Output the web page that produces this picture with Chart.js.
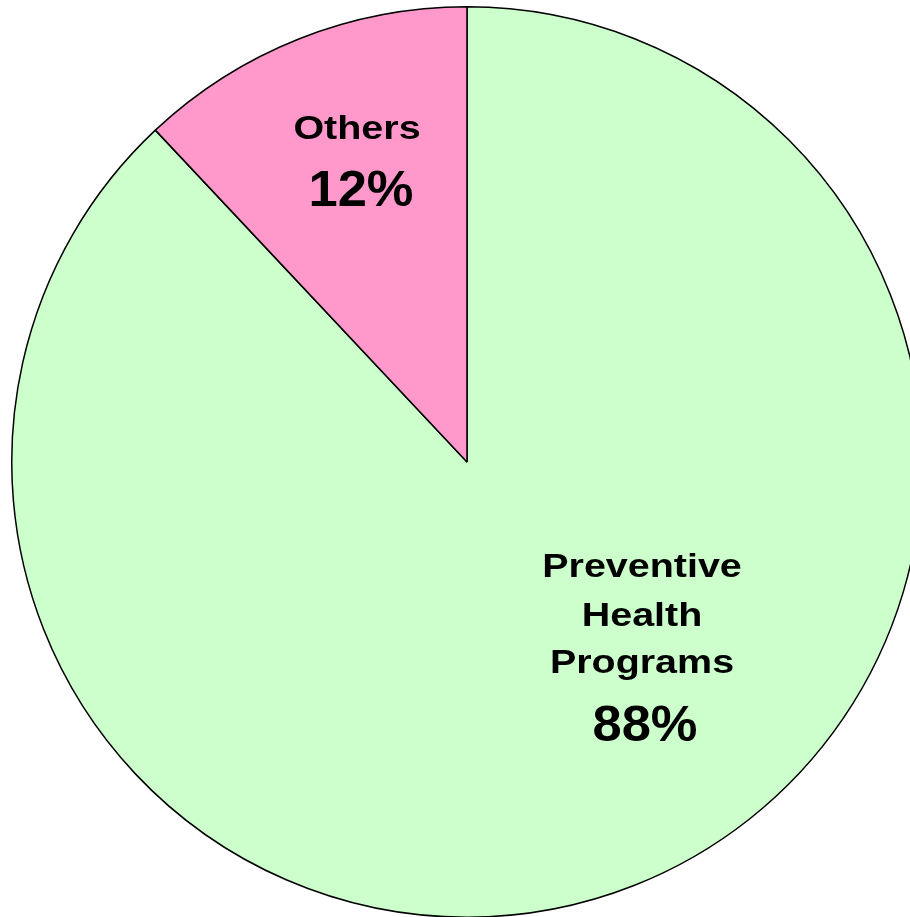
<!DOCTYPE html>
<html>
<head>
<meta charset="utf-8">
<script src="https://cdn.jsdelivr.net/npm/chart.js@4/dist/chart.umd.min.js"></script>
<style>
  html, body { margin:0; padding:0; background:#fff; overflow:hidden; width:910px; height:917px; }
  #wrap { position:absolute; left:9px; top:4px; width:916px; height:916px; }
</style>
</head>
<body>
<div id="wrap"><canvas id="pieChart" width="916" height="916"></canvas></div>
<script>
// data
const categories = ['Preventive Health Programs', 'Others'];
const labelLines = [['Preventive', 'Health', 'Programs'], ['Others']];
const shares = [88, 12];
const colors = ['#CCFFCC', '#FF99CC'];

// label placement relative to pie centre (dx, baselines of each line)
const labelPos = [
  { dx: 175, lines: [115, 164, 211], pct: 279 },
  { dx: -110, lines: [-323], pct: -256 }
];

const sliceLabels = {
  id: 'sliceLabels',
  afterDatasetsDraw(chart){
    const ctx = chart.ctx;
    const arcs = chart.getDatasetMeta(0).data;
    arcs.forEach((arc, i) => {
      const p = labelPos[i];
      const cx = arc.x + p.dx;
      ctx.save();
      ctx.fillStyle = '#000';
      ctx.textAlign = 'center';
      ctx.textBaseline = 'alphabetic';
      labelLines[i].forEach((line, j) => {
        ctx.save();
        ctx.translate(cx, arc.y + p.lines[j]);
        ctx.scale(1.16, 1);
        ctx.font = 'bold 34px "Liberation Sans", Arial, sans-serif';
        ctx.fillText(line, 0, 0);
        ctx.restore();
      });
      ctx.save();
      ctx.translate(cx + (i === 0 ? 3 : 4), arc.y + p.pct);
      ctx.scale(1.05, 1);
      ctx.font = 'bold 50px "Liberation Sans", Arial, sans-serif';
      ctx.fillText(shares[i] + '%', 0, 0);
      ctx.restore();
      ctx.restore();
    });
  }
};

new Chart(document.getElementById('pieChart'), {
  type: 'pie',
  data: {
    labels: categories,
    datasets: [{
      data: shares,
      backgroundColor: colors,
      borderColor: '#000',
      borderWidth: 1.5
    }]
  },
  options: {
    responsive: false,
    animation: false,
    layout: { padding: 2 },
    plugins: { legend: { display: false }, tooltip: { enabled: false } }
  },
  plugins: [sliceLabels]
});
</script>
</body>
</html>
